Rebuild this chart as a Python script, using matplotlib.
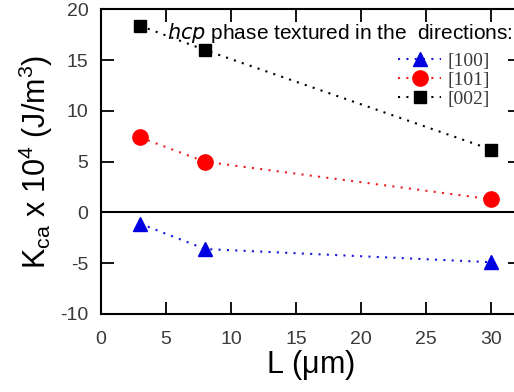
import matplotlib
matplotlib.use("Agg")
import matplotlib.pyplot as plt

# Grain size L (µm) and anisotropy constant K_ca (x 10^4 J/m^3)
L_um = [3, 8, 30]
k_100 = [-1.1, -3.6, -4.9]
k_101 = [7.4, 5.0, 1.3]
k_002 = [18.4, 16.0, 6.2]
series_labels = ["[100]", "[101]", "[002]"]
x_ticks = [0, 5, 10, 15, 20, 25, 30]
y_ticks = [-10, -5, 0, 5, 10, 15, 20]

plt.rcParams["font.family"] = ["Liberation Sans", "DejaVu Sans"]
plt.rcParams["axes.unicode_minus"] = False

fig = plt.figure(figsize=(5.14, 3.92), dpi=100)
ax = fig.add_axes([0.1965, 0.199, 0.815, 0.7768])

ax.axhline(0, color="black", lw=1.5, zorder=1)

ax.plot(L_um, k_100, ls=(0, (1, 3)), color="#1a1adc", lw=1.5,
        marker="^", ms=10, mfc="#0000e0", mec="#0000e0", label=series_labels[0])
ax.plot(L_um, k_101, ls=(0, (1, 3)), color="#ee2020", lw=1.5,
        marker="o", ms=11, mfc="#ff0000", mec="#ff0000", label=series_labels[1])
ax.plot(L_um, k_002, ls=(0, (1, 3)), color="black", lw=1.5,
        marker="s", ms=9, mfc="black", mec="black", label=series_labels[2])

ax.set_xlim(0, 32.2)
ax.set_ylim(-10, 20)
ax.set_xticks(x_ticks)
ax.set_yticks(y_ticks)
ax.tick_params(direction="in", length=9, width=1.3, top=True, right=True,
               labelsize=14, labelcolor="#3a3a3a")
ax.tick_params(axis="x", pad=12)
ax.tick_params(axis="y", pad=9)
for s in ax.spines.values():
    s.set_linewidth(1.5)

ax.set_xlabel(r"L ($\mathregular{\mu}$m)", fontsize=22, labelpad=0)
ax.set_ylabel(r"K$_{\mathregular{ca}}$ x 10$^{\mathregular{4}}$ (J/m$^{\mathregular{3}}$)",
              fontsize=22, labelpad=4)

ax.text(5.1, 17.7, r"$\it{hcp}$ phase textured in the  directions:",
        fontsize=15, va="center", ha="left")

leg = ax.legend(loc="upper left", bbox_to_anchor=(0.71, 0.86),
                frameon=False, handlelength=2.2, handletextpad=0.3,
                labelspacing=0.08, borderaxespad=0, borderpad=0,
                prop={"family": "Liberation Serif", "size": 14})
for t in leg.get_texts():
    t.set_color("#3a3a3a")

fig.savefig("out.png", dpi=100)
